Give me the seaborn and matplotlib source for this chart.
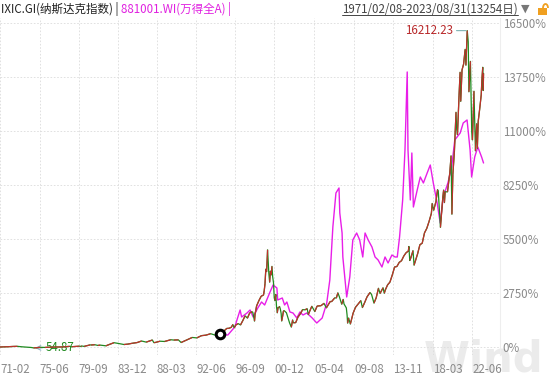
import matplotlib
matplotlib.use("Agg")
import numpy as np
import pandas as pd
import seaborn as sns
import matplotlib.pyplot as plt
import matplotlib.dates as mdates
from matplotlib.patches import Rectangle, Arc

# ---------------- data ----------------
nasdaq_dates = [
    "1971-02-08", "1971-06-30", "1971-12-31", "1972-06-30", "1972-12-29", "1973-06-29", "1973-12-31",
    "1974-06-28", "1974-10-03", "1974-12-31", "1975-06-30", "1975-12-31", "1976-06-30", "1976-12-31",
    "1977-06-30", "1977-12-30", "1978-08-31", "1978-11-30", "1978-12-29", "1979-06-29", "1979-09-28",
    "1979-11-30", "1979-12-31", "1980-03-31", "1980-11-28", "1980-12-31", "1981-05-29", "1981-09-30",
    "1981-12-31", "1982-08-13", "1982-12-31", "1983-06-30", "1983-12-30", "1984-07-31", "1984-12-31",
    "1985-06-28", "1985-12-31", "1986-06-30", "1986-12-31", "1987-08-31", "1987-10-30", "1987-12-31",
    "1988-06-30", "1988-12-30", "1989-08-31", "1989-12-29", "1990-06-29", "1990-10-16", "1990-12-31",
    "1991-06-28", "1991-12-31", "1992-06-30", "1992-12-31", "1993-06-30", "1993-12-31", "1994-06-30",
    "1994-12-30", "1995-01-03", "1995-03-31", "1995-06-30", "1995-09-29", "1995-12-29", "1996-03-29",
    "1996-05-31", "1996-07-24", "1996-09-30", "1996-12-31", "1997-03-31", "1997-06-30", "1997-09-30",
    "1997-12-31", "1998-03-31", "1998-06-30", "1998-07-31", "1998-10-08", "1998-10-30", "1998-12-31",
    "1999-03-31", "1999-06-30", "1999-09-30", "1999-10-29", "1999-11-30", "1999-12-31", "2000-01-31",
    "2000-02-29", "2000-03-10", "2000-04-28", "2000-05-31", "2000-06-30", "2000-07-31", "2000-08-31",
    "2000-09-29", "2000-10-31", "2000-11-30", "2000-12-29", "2001-01-31", "2001-02-28", "2001-03-30",
    "2001-04-30", "2001-05-31", "2001-06-29", "2001-07-31", "2001-08-31", "2001-09-21", "2001-10-31",
    "2001-11-30", "2001-12-31", "2002-03-28", "2002-06-28", "2002-07-31", "2002-10-09", "2002-11-29",
    "2002-12-31", "2003-03-31", "2003-06-30", "2003-09-30", "2003-12-31", "2004-03-31", "2004-06-30",
    "2004-08-12", "2004-12-31", "2005-04-28", "2005-07-29", "2005-12-30", "2006-04-28", "2006-07-31",
    "2006-12-29", "2007-02-28", "2007-06-29", "2007-08-31", "2007-10-31", "2007-12-31", "2008-03-31",
    "2008-05-30", "2008-06-30", "2008-09-30", "2008-10-31", "2008-11-20", "2008-12-31", "2009-03-09",
    "2009-06-30", "2009-09-30", "2009-12-31", "2010-04-30", "2010-06-30", "2010-09-30", "2010-12-31",
    "2011-04-29", "2011-06-30", "2011-10-03", "2011-12-30", "2012-03-30", "2012-05-31", "2012-09-28",
    "2012-11-15", "2012-12-31", "2013-03-28", "2013-06-28", "2013-09-30", "2013-12-31", "2014-03-31",
    "2014-06-30", "2014-09-30", "2014-12-31", "2015-03-31", "2015-06-30", "2015-07-20", "2015-08-24",
    "2015-09-30", "2015-12-31", "2016-02-11", "2016-06-30", "2016-09-30", "2016-12-30", "2017-03-31",
    "2017-06-30", "2017-09-29", "2017-12-29", "2018-01-31", "2018-03-30", "2018-06-29", "2018-08-31",
    "2018-09-28", "2018-10-31", "2018-12-24", "2019-03-29", "2019-04-30", "2019-05-31", "2019-06-28",
    "2019-09-30", "2019-12-31", "2020-02-19", "2020-03-23", "2020-04-30", "2020-06-30", "2020-09-02",
    "2020-09-30", "2020-10-30", "2020-12-31", "2021-02-12", "2021-03-08", "2021-04-29", "2021-06-30",
    "2021-08-31", "2021-09-30", "2021-11-22", "2021-12-31", "2022-01-27", "2022-03-29", "2022-05-20",
    "2022-06-16", "2022-08-16", "2022-09-30", "2022-10-13", "2022-11-30", "2022-12-28", "2023-01-31",
    "2023-03-31", "2023-05-31", "2023-06-30", "2023-07-31", "2023-08-18", "2023-08-31",
]
nasdaq_levels = [
    100.0, 108, 114, 130, 134, 110, 92,
    76, 54.87, 60, 83, 78, 90, 98,
    100, 105, 133, 111, 118, 133, 141,
    131, 151, 131, 208, 202, 216, 180,
    196, 160, 232, 319, 279, 226, 247,
    290, 325, 405, 349, 455, 323, 331,
    395, 381, 470, 454, 462, 329, 374,
    476, 586, 563, 677, 704, 777, 706,
    752, 743, 817, 933, 1044, 1052, 1101,
    1243, 1081, 1227, 1291, 1222, 1442, 1686,
    1570, 1835, 1895, 1872, 1419, 1771, 2193,
    2461, 2686, 2746, 2966, 3336, 4069, 3940,
    4697, 5048, 3861, 3401, 3966, 3767, 4206,
    3673, 3370, 2598, 2471, 2773, 2152, 1840,
    2116, 2110, 2161, 2027, 1805, 1423, 1690,
    1931, 1950, 1845, 1463, 1328, 1114, 1479,
    1336, 1341, 1623, 1787, 2003, 1994, 2048,
    1752, 2175, 1904, 2185, 2205, 2323, 2091,
    2415, 2416, 2603, 2596, 2859, 2652, 2279,
    2523, 2293, 2092, 1721, 1316, 1577, 1268,
    1835, 2122, 2269, 2461, 2109, 2369, 2653,
    2874, 2774, 2335, 2605, 3092, 2827, 3116,
    2837, 3020, 3268, 3403, 3771, 4177, 4199,
    4408, 4493, 4736, 4901, 4987, 5219, 4506,
    4620, 5007, 4266, 4843, 5312, 5383, 5912,
    6140, 6496, 6903, 7411, 7063, 7510, 8110,
    8046, 7306, 6193, 7729, 8095, 7453, 8006,
    7999, 8973, 9838, 6860, 8890, 10059, 12056,
    11168, 10912, 12888, 14095, 12609, 14211, 14504,
    15259, 14448, 16212.23, 15645, 13094, 14646, 11035,
    10646, 13128, 10576, 10088, 11468, 10213, 11585,
    12222, 12935, 13788, 14346, 13161, 14035,
]

winda_dates = [
    "1995-01-03", "1995-11-15", "1996-08-15", "1997-03-15", "1997-05-15", "1997-12-15", "1998-04-15",
    "1998-08-15", "1999-02-15", "1999-07-15", "1999-11-15", "2000-06-15", "2000-10-15", "2001-03-15",
    "2001-04-15", "2001-10-15", "2002-01-15", "2002-04-15", "2002-08-15", "2002-12-15", "2003-05-15",
    "2003-09-15", "2004-01-15", "2004-06-15", "2005-01-15", "2005-07-15", "2006-02-15", "2006-08-15",
    "2006-12-15", "2007-04-15", "2007-08-15", "2007-12-15", "2008-01-15", "2008-04-15", "2008-05-15",
    "2008-10-15", "2009-02-15", "2009-06-15", "2009-11-15", "2010-03-15", "2010-07-15", "2010-10-15",
    "2011-02-15", "2011-07-15", "2011-11-15", "2012-03-15", "2012-08-15", "2012-12-15", "2013-04-15",
    "2013-09-15", "2014-01-15", "2014-04-15", "2014-07-15", "2014-11-15", "2015-02-15", "2015-05-15",
    "2015-06-15", "2015-09-15", "2015-11-15", "2016-01-15", "2016-06-15", "2016-10-15", "2017-02-15",
    "2017-07-15", "2017-11-15", "2018-03-15", "2018-08-15", "2018-12-15", "2019-04-15", "2019-10-15",
    "2020-03-15", "2020-07-15", "2021-02-15", "2021-06-15", "2021-11-15", "2022-03-15", "2022-05-15",
    "2022-09-15", "2023-01-15", "2023-06-15", "2023-08-31",
]
winda_pct = [
    643, 611, 1019, 1884, 1528, 1732, 1884,
    1528, 1986, 2292, 2139, 2801, 3158, 3005,
    2394, 2496, 2139, 2292, 1783, 1732, 1477,
    1783, 1630, 1732, 1477, 1222, 1477, 2241,
    3412, 6112, 7843, 8098, 6825, 5806, 4584,
    2547, 3565, 5450, 5806, 5450, 4584, 5806,
    5450, 5093, 4584, 4431, 4074, 4584, 4278,
    4686, 4584, 4584, 5602, 7487, 10033, 14006,
    10033, 7487, 9880, 7130, 7996, 8658, 8353,
    8862, 9269, 8353, 7334, 6315, 7639, 8353,
    9167, 10543, 10899, 11408, 11561, 10033, 8658,
    9677, 10186, 9677, 9371,
]

xtick_dates = ["1971-02-08", "1975-06-01", "1979-09-01", "1983-12-01", "1988-03-01", "1992-06-01",
               "1996-09-01", "2000-12-01", "2005-04-01", "2009-08-01", "2013-11-01", "2018-03-01",
               "2022-06-01"]
xtick_labels = ["71-02", "75-06", "79-09", "83-12", "88-03", "92-06", "96-09", "00-12", "05-04",
                "09-08", "13-11", "18-03", "22-06"]
ytick_values = [0, 2750, 5500, 8250, 11000, 13750, 16500]
ytick_labels = [f"{v}%" for v in ytick_values]

header_left = "IXIC.GI(纳斯达克指数) | "
header_mid = "881001.WI(万得全A) |"
header_right = "1971/02/08-2023/08/31(13254日)"
max_label = "16212.23"
min_label = "54.87"

# ---------------- styling ----------------
sns.set_theme(style="white")
plt.rcParams["font.family"] = ["Noto Sans CJK SC", "DejaVu Sans"]

W, H = 552, 377
fig = plt.figure(figsize=(W / 100, H / 100), dpi=100)
ax_left, ax_right, ax_top, ax_bot = 0, 500, 18, 355
ax = fig.add_axes([ax_left / W, (H - ax_bot) / H, (ax_right - ax_left) / W, (ax_bot - ax_top) / H])
ax.set_facecolor("none")

nd = pd.DataFrame({"date": pd.to_datetime(nasdaq_dates), "level": nasdaq_levels})
nd["pct"] = (nd["level"] / nd["level"].iloc[0] - 1) * 100
wd = pd.DataFrame({"date": pd.to_datetime(winda_dates), "pct": winda_pct})

RED = "#c0302c"
GREEN = "#1f8a1f"
PINK = "#e81ee8"

# Wind All A (magenta)
sns.lineplot(data=wd, x="date", y="pct", ax=ax, color=PINK, lw=1.0, zorder=3)

# Nasdaq: segments red when rising, green when falling
sns.lineplot(data=nd, x="date", y="pct", ax=ax, color=GREEN, lw=0.9, zorder=4)
for i in range(1, len(nd)):
    if nd["pct"].iloc[i] >= nd["pct"].iloc[i - 1]:
        ax.plot(nd["date"].iloc[i - 1:i + 1], nd["pct"].iloc[i - 1:i + 1], color=RED, lw=0.9, zorder=4,
                solid_capstyle="butt")

# start marker of the overlay series
ax.scatter([wd["date"].iloc[0]], [wd["pct"].iloc[0]], s=38, facecolor="white", edgecolor="black",
           linewidth=2.2, zorder=6)

# axes limits
x0 = pd.Timestamp("1971-02-08")
px_per_day = 9.2 / 365.25
x1 = x0 + pd.Timedelta(days=(ax_right - ax_left) / px_per_day)
ax.set_xlim(x0, x1)
per_px = 16500 / 324.0
ax.set_ylim((347 - ax_bot) * per_px, (347 - ax_top) * per_px)

# ticks and grid
ax.set_xticks(pd.to_datetime(xtick_dates))
ax.set_xticklabels(xtick_labels, ha="left")
ax.set_yticks(ytick_values)
ax.set_yticklabels(ytick_labels)
ax.yaxis.tick_right()
ax.tick_params(axis="x", length=0, pad=6, labelsize=8.3, colors="#8a8a8a")
ax.tick_params(axis="y", length=0, pad=2, labelsize=8.3, colors="#8a8a8a")
for lab in ax.get_xticklabels():
    lab.set_horizontalalignment("left")
ax.grid(True, color="#dcdcdc", linestyle=(0, (2, 2)), linewidth=0.6)
ax.set_xlabel("")
ax.set_ylabel("")
for s in ["left", "top", "bottom"]:
    ax.spines[s].set_visible(False)
ax.spines["right"].set_color("#eeeeee")
ax.spines["right"].set_linewidth(0.8)

# annotations: max and min
imax = nd["pct"].idxmax()
imin = nd["pct"].idxmin()
ax.annotate(max_label, xy=(nd["date"][imax], nd["pct"][imax]), xytext=(-14, 0), textcoords="offset pixels",
            ha="right", va="center", fontsize=8.3, color="#b8282a",
            arrowprops=dict(arrowstyle="-", color="#7fb3b3", lw=0.8, shrinkA=0, shrinkB=1))
ax.annotate(min_label, xy=(nd["date"][imin], nd["pct"][imin]), xytext=(12, 0), textcoords="offset pixels",
            ha="left", va="center", fontsize=8.3, color="#1f8a1f",
            arrowprops=dict(arrowstyle="->", color="#8fb8c8", lw=0.8, shrinkA=0, shrinkB=1))

# watermark
fig.text(0.985, -0.01, "Wind", ha="right", va="bottom", fontsize=30, fontweight="bold",
         color="#ebebeb", zorder=-1, family=["DejaVu Sans"])

# header
fig.canvas.draw()
renderer = fig.canvas.get_renderer()
y_head = 1 - 9 / H
t1 = fig.text(1 / W, y_head, header_left, ha="left", va="center", fontsize=8.3, color="#222222")
bb = t1.get_window_extent(renderer)
fig.text(bb.x1 / W, y_head, header_mid, ha="left", va="center", fontsize=8.3, color="#e020e0")

t3 = fig.text(518 / W, y_head, header_right, ha="right", va="center", fontsize=8.3, color="#444444")
bb3 = t3.get_window_extent(renderer)
fig.add_artist(plt.Line2D([bb3.x0 / W, bb3.x1 / W], [(bb3.y0 + 1) / H, (bb3.y0 + 1) / H],
                          color="#444444", lw=0.7, transform=fig.transFigure))
fig.text(525 / W, y_head, "▼", ha="center", va="center", fontsize=8, color="#777777",
         family=["DejaVu Sans"])
# small unlocked padlock
fig.add_artist(Rectangle((538 / W, (H - 15) / H), 9 / W, 7 / H, transform=fig.transFigure,
                         facecolor="#f0a020", edgecolor="none"))
fig.add_artist(Arc((545.5 / W, (H - 8) / H), 5 / W, 8 / H, theta1=0, theta2=180,
                   transform=fig.transFigure, color="#f0a020", lw=1.3))

fig.savefig("out.png", dpi=100)
